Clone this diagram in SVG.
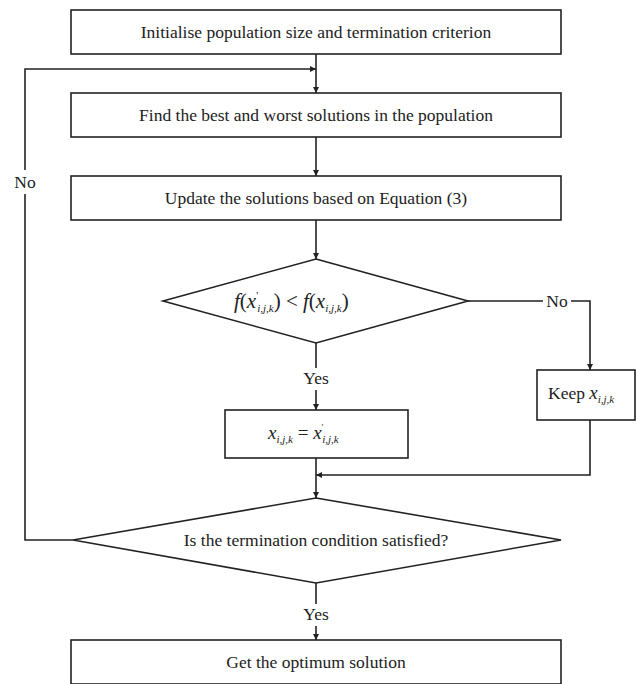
<svg xmlns="http://www.w3.org/2000/svg" width="636" height="684" viewBox="0 0 636 684">
<style>
.box{fill:#fff;stroke:#222;stroke-width:1.6}
.ln{fill:none;stroke:#222;stroke-width:1.6}
.tx{font-family:"Times New Roman",Times,"Liberation Serif","DejaVu Serif",serif;font-size:17.5px;fill:#222}
.t{text-anchor:middle}
.i{font-style:italic}
.s{font-size:11px;font-style:italic}
</style>
<defs>
<marker id="ah" viewBox="0 0 10 10" refX="10" refY="5" markerWidth="6" markerHeight="6" orient="auto" markerUnits="userSpaceOnUse">
<path d="M0,0 L10,5 L0,10 z" fill="#222"/>
</marker>
</defs>
<rect width="636" height="684" fill="#fff"/>
<g id="connectors">
<path class="ln" d="M316,54 V93" marker-end="url(#ah)"/>
<path class="ln" d="M73,540 H25 V194 M25,170 V69 H316" marker-end="url(#ah)"/>
<path class="ln" d="M316,137 V176" marker-end="url(#ah)"/>
<path class="ln" d="M316,220 V259" marker-end="url(#ah)"/>
<path class="ln" d="M468,301 H543 M571,301 H590 V370" marker-end="url(#ah)"/>
<path class="ln" d="M316,343 V368 M316,390 V410" marker-end="url(#ah)"/>
<path class="ln" d="M590,420 V475 H316" marker-end="url(#ah)"/>
<path class="ln" d="M316,458 V498" marker-end="url(#ah)"/>
<path class="ln" d="M316,583 V604 M316,626 V640" marker-end="url(#ah)"/>
<text class="tx t" font-family="Liberation Serif, serif" x="25" y="188">No</text>
<text class="tx t" font-family="Liberation Serif, serif" x="557" y="307">No</text>
<text class="tx t" font-family="Liberation Serif, serif" x="316" y="384">Yes</text>
<text class="tx t" font-family="Liberation Serif, serif" x="316" y="620">Yes</text>
</g>
<g id="init">
<rect class="box" x="71" y="10" width="490" height="44"/>
<text class="tx t" font-family="Liberation Serif, serif" x="316" y="38">Initialise population size and termination criterion</text>
</g>
<g id="find">
<rect class="box" x="71" y="93" width="490" height="44"/>
<text class="tx t" font-family="Liberation Serif, serif" x="316" y="121">Find the best and  worst solutions in the population</text>
</g>
<g id="update">
<rect class="box" x="71" y="176" width="490" height="44"/>
<text class="tx t" font-family="Liberation Serif, serif" x="316" y="204">Update the solutions based on Equation (3)</text>
</g>
<g id="compare">
<polygon class="box" points="316,259 468,301 316,343 163,301"/>
<text class="tx" font-family="Liberation Serif, serif" x="234" y="308" style="font-size:21px"><tspan class="i">f</tspan>(<tspan class="i">x</tspan><tspan style="font-size:11px" dy="-9">'</tspan><tspan class="s" dy="13" dx="-1">i,j,k</tspan><tspan dy="-4">) &lt; </tspan><tspan class="i">f</tspan>(<tspan class="i">x</tspan><tspan class="s" dy="4">i,j,k</tspan><tspan dy="-4">)</tspan></text>
</g>
<g id="keep">
<rect class="box" x="537" y="370" width="98" height="50"/>
<text class="tx" font-family="Liberation Serif, serif" x="548" y="399">Keep <tspan class="i" style="font-size:19px">x</tspan><tspan class="s" dy="4">i,j,k</tspan></text>
</g>
<g id="assign">
<rect class="box" x="225" y="410" width="183" height="48"/>
<text class="tx" font-family="Liberation Serif, serif" x="268" y="439" style="font-size:19px"><tspan class="i">x</tspan><tspan class="s" dy="4">i,j,k</tspan><tspan dy="-4"> = </tspan><tspan class="i">x</tspan><tspan style="font-size:9px" dy="-9">'</tspan><tspan class="s" dy="13" dx="-1">i,j,k</tspan></text>
</g>
<g id="termination">
<polygon class="box" points="316,498 561,540 316,583 73,540"/>
<text class="tx t" font-family="Liberation Serif, serif" x="316" y="546">Is the termination condition satisfied?</text>
</g>
<g id="optimum">
<rect class="box" x="71" y="640" width="490" height="44"/>
<text class="tx t" font-family="Liberation Serif, serif" x="316" y="668">Get the optimum solution</text>
</g>
</svg>
